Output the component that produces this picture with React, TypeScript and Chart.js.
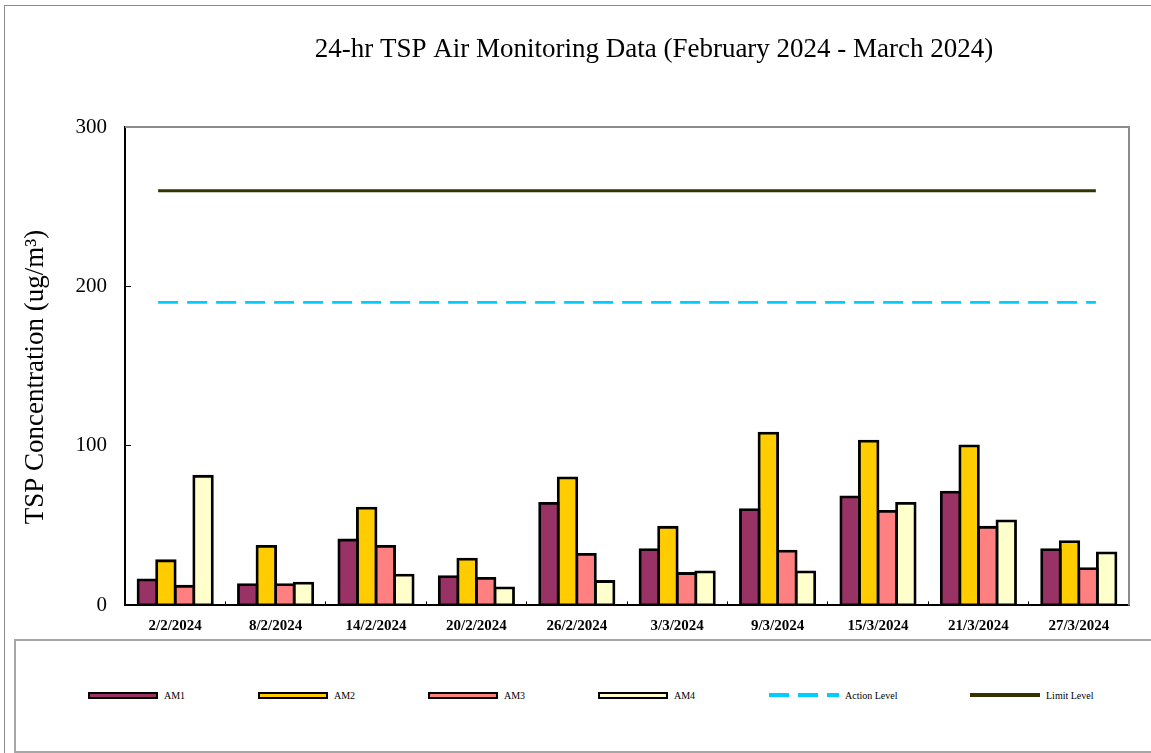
import React, { useEffect, useRef } from "react";
import { Chart, registerables } from "chart.js";

Chart.register(...registerables);

// ---------- data ----------
const categories = [
  "2/2/2024",
  "8/2/2024",
  "14/2/2024",
  "20/2/2024",
  "26/2/2024",
  "3/3/2024",
  "9/3/2024",
  "15/3/2024",
  "21/3/2024",
  "27/3/2024",
];
const am1 = [16, 13, 41, 18, 64, 35, 60, 68, 71, 35];
const am2 = [28, 37, 61, 29, 80, 49, 108, 103, 100, 40];
const am3 = [12, 13, 37, 17, 32, 20, 34, 59, 49, 23];
const am4 = [81, 14, 19, 11, 15, 21, 21, 64, 53, 33];
const actionLevel = 190;
const limitLevel = 260;
const yMin = 0;
const yMax = 300;
const yStep = 100;
// horizontal extent of the level lines, in category-index units (first category = 0)
const levelSpan = [-0.17, 9.17];

const titleText = "24-hr TSP Air Monitoring Data (February 2024 - March 2024)";
const yTitleText = "TSP Concentration (ug/m\u00B3)";

const SERIF = '"Liberation Serif", "Times New Roman", serif';

const seriesColors = {
  AM1: "#993366",
  AM2: "#FFCC00",
  AM3: "#FF8080",
  AM4: "#FFFFCC",
  action: "#00CCFF",
  limit: "#333300",
};

const legendItems = [
  { label: "AM1", kind: "bar", color: seriesColors.AM1 },
  { label: "AM2", kind: "bar", color: seriesColors.AM2 },
  { label: "AM3", kind: "bar", color: seriesColors.AM3 },
  { label: "AM4", kind: "bar", color: seriesColors.AM4 },
  { label: "Action Level", kind: "dash", color: seriesColors.action },
  { label: "Limit Level", kind: "line", color: seriesColors.limit },
];
const legendSlots = [88, 258, 428, 598, 769, 970];

const textPlugin = {
  id: "chartTexts",
  afterDraw(chart: any) {
    const { ctx, chartArea } = chart;
    const { left, top, right, bottom } = chartArea;
    ctx.save();
    // gray top/right frame of the plot area
    ctx.strokeStyle = "#8c8c8c";
    ctx.lineWidth = 2;
    ctx.beginPath();
    ctx.moveTo(left, top);
    ctx.lineTo(right, top);
    ctx.lineTo(right, bottom);
    ctx.stroke();

    ctx.fillStyle = "#000";
    ctx.font = `27px ${SERIF}`;
    ctx.textAlign = "center";
    ctx.textBaseline = "alphabetic";
    ctx.fillText(titleText, 654, 56.5);

    ctx.translate(42.5, 377);
    ctx.rotate(-Math.PI / 2);
    ctx.fillText(yTitleText, 0, 0);
    ctx.restore();
  },
};

function barDataset(label: string, values: number[], color: string) {
  return {
    type: "bar" as const,
    label,
    data: values.map((y, i) => ({ x: i, y })),
    backgroundColor: color,
    borderColor: "#000",
    borderWidth: 2.8,
    inflateAmount: 1.4,
    borderSkipped: false,
    categoryPercentage: 0.74,
    barPercentage: 1,
    order: 2,
  };
}

function levelDataset(label: string, value: number, color: string, width: number, dash: number[]) {
  return {
    type: "line" as const,
    label,
    data: levelSpan.map((x) => ({ x, y: value })),
    borderColor: color,
    backgroundColor: color,
    borderWidth: width,
    borderDash: dash,
    pointRadius: 0,
    fill: false,
    order: 1,
  };
}

function Swatch({ kind, color }: { kind: string; color: string }) {
  if (kind === "bar") {
    return (
      <div
        style={{
          width: 70,
          height: 7,
          boxSizing: "border-box",
          border: "2px solid #000",
          background: color,
        }}
      />
    );
  }
  if (kind === "dash") {
    return (
      <div
        style={{
          width: 70,
          height: 4,
          background: `repeating-linear-gradient(to right, ${color} 0px, ${color} 20px, transparent 20px, transparent 29px)`,
        }}
      />
    );
  }
  return <div style={{ width: 70, height: 4, background: color }} />;
}

export default function App() {
  const canvasRef = useRef<HTMLCanvasElement | null>(null);

  useEffect(() => {
    const canvas = canvasRef.current;
    if (!canvas) return;
    const chart = new Chart(canvas, {
      type: "bar",
      data: {
        datasets: [
          barDataset("AM1", am1, seriesColors.AM1),
          barDataset("AM2", am2, seriesColors.AM2),
          barDataset("AM3", am3, seriesColors.AM3),
          barDataset("AM4", am4, seriesColors.AM4),
          levelDataset("Action Level", actionLevel, seriesColors.action, 2.6, [20, 9]),
          levelDataset("Limit Level", limitLevel, seriesColors.limit, 3, []),
        ] as any,
      },
      options: {
        animation: false,
        responsive: false,
        maintainAspectRatio: false,
        layout: { padding: { top: 127, right: 22, bottom: 0, left: 0 } },
        plugins: {
          legend: { display: false },
          title: { display: false },
          tooltip: { enabled: false },
        },
        scales: {
          x: {
            type: "linear",
            min: -0.5,
            max: categories.length - 0.5,
            offset: false,
            afterBuildTicks: (scale: any) => {
              scale.ticks = categories.map((_, i) => ({ value: i }));
            },
            grid: {
              display: true,
              offset: true,
              drawOnChartArea: false,
              drawTicks: true,
              tickLength: -4,
              color: "#000",
              lineWidth: 1,
            },
            border: { display: true, color: "#000", width: 2 },
            ticks: {
              color: "#000",
              padding: 16,
              maxRotation: 0,
              autoSkip: false,
              font: { family: SERIF, size: 15, weight: "bold" },
              callback: (value: any) => categories[Math.round(Number(value))] ?? "",
            },
            afterFit: (scale: any) => {
              scale.height = 34;
            },
          },
          y: {
            type: "linear",
            min: yMin,
            max: yMax,
            grid: {
              display: true,
              drawOnChartArea: false,
              drawTicks: true,
              tickLength: -6,
              color: "#000",
              lineWidth: 1,
            },
            border: { display: true, color: "#000", width: 2 },
            ticks: {
              stepSize: yStep,
              color: "#000",
              padding: 24,
              font: { family: SERIF, size: 21 },
            },
            afterFit: (scale: any) => {
              scale.width = 125;
            },
          },
        },
      } as any,
      plugins: [textPlugin],
    });
    return () => chart.destroy();
  }, []);

  return (
    <div
      style={{
        position: "absolute",
        left: 0,
        top: 0,
        width: 1151,
        height: 753,
        background: "#fff",
        overflow: "hidden",
      }}
    >
      <div
        style={{
          position: "absolute",
          left: 4,
          top: 5,
          width: 1200,
          height: 800,
          borderLeft: "1.5px solid #8c8c8c",
          borderTop: "1.5px solid #8c8c8c",
        }}
      />
      <canvas
        ref={canvasRef}
        width={1151}
        height={642}
        style={{ position: "absolute", left: 0, top: 0, width: 1151, height: 642 }}
      />
      <div
        style={{
          position: "absolute",
          left: 14,
          top: 639,
          width: 1160,
          height: 110,
          border: "2px solid #a6a6a6",
          background: "#fff",
        }}
      />
      {legendItems.map((item, i) => (
        <div
          key={item.label}
          style={{
            position: "absolute",
            left: legendSlots[i],
            top: 685,
            height: 20,
            display: "flex",
            alignItems: "center",
            gap: 6,
          }}
        >
          <Swatch kind={item.kind} color={item.color} />
          <span style={{ fontFamily: SERIF, fontSize: 10, color: "#000", whiteSpace: "nowrap" }}>
            {item.label}
          </span>
        </div>
      ))}
    </div>
  );
}
